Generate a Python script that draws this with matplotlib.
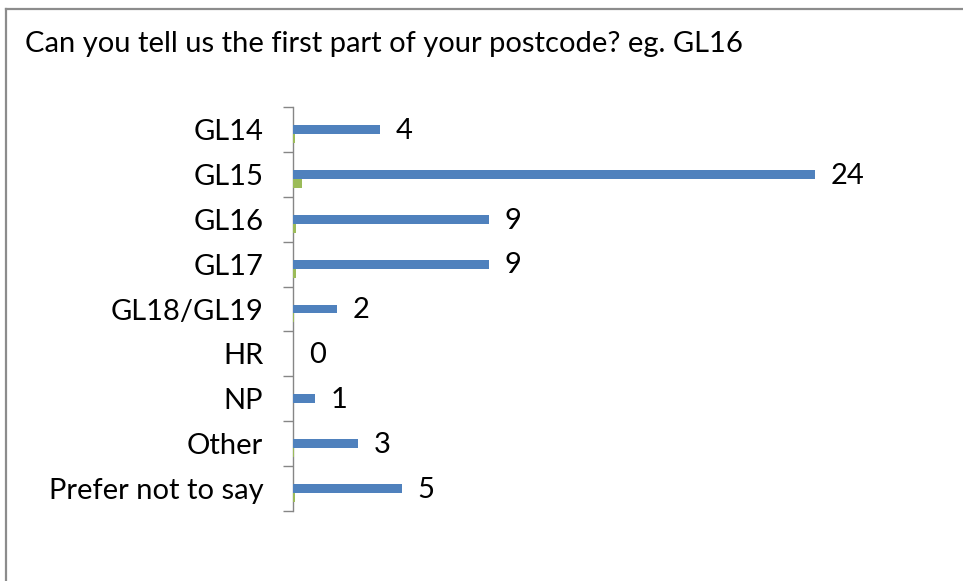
import matplotlib
matplotlib.use("Agg")
import matplotlib.pyplot as plt
from matplotlib.lines import Line2D
import numpy as np

categories = ["GL14", "GL15", "GL16", "GL17", "GL18/GL19", "HR", "NP", "Other", "Prefer not to say"]
counts = [4, 24, 9, 9, 2, 0, 1, 3, 5]
total = sum(counts)
shares = [c / total for c in counts]
title = "Can you tell us the first part of your postcode? eg. GL16"

W, H = 963, 581
fig = plt.figure(figsize=(W / 100, H / 100), dpi=100)
fig.patch.set_facecolor("white")

font = "Lato"

# axes placement in pixels
ax_left, ax_right = 293, 945.5
ax_top, ax_bottom = 107, 511
ax = fig.add_axes([ax_left / W, 1 - ax_bottom / H, (ax_right - ax_left) / W, (ax_bottom - ax_top) / H])

n = len(categories)
y = np.arange(n)
bar_h = 0.2
ax.barh(y, counts, height=bar_h, color="#4F81BD", zorder=3)
ax.barh(y + bar_h, shares, height=bar_h, color="#9BBB59", zorder=3)

for yi, c in zip(y, counts):
    ax.annotate(str(c), xy=(c, yi + 0.03), xytext=(11.5, 0), textcoords="offset points",
                ha="left", va="center", fontsize=21, family=font, color="#000000")

ax.set_xlim(0, 30)
ax.set_ylim(n - 0.5, -0.5)

for s in ["top", "right", "bottom"]:
    ax.spines[s].set_visible(False)
ax.spines["left"].set_color("#868686")
ax.spines["left"].set_linewidth(1.0)
ax.set_xticks([])
ax.set_yticks(y)
ax.set_yticklabels(categories, family=font, fontsize=21)
ax.tick_params(axis="y", which="major", length=0, pad=21.5)
ax.set_yticks(np.arange(-0.5, n, 1.0), minor=True)
ax.tick_params(axis="y", which="minor", length=7, width=1.0, color="#868686")
ax.set_facecolor("none")

fig.text(25 / W, 1 - 44 / H, title, family=font, fontsize=21, ha="left", va="center", color="#000000")

# chart frame (top and left edges)
fig.add_artist(Line2D([6 / W, 1], [1 - 9 / H, 1 - 9 / H], transform=fig.transFigure, color="#8C8C8C", lw=1.6))
fig.add_artist(Line2D([6 / W, 6 / W], [1 - 9 / H, 0], transform=fig.transFigure, color="#8C8C8C", lw=1.6))

fig.savefig("out.png", dpi=100, facecolor="white")
